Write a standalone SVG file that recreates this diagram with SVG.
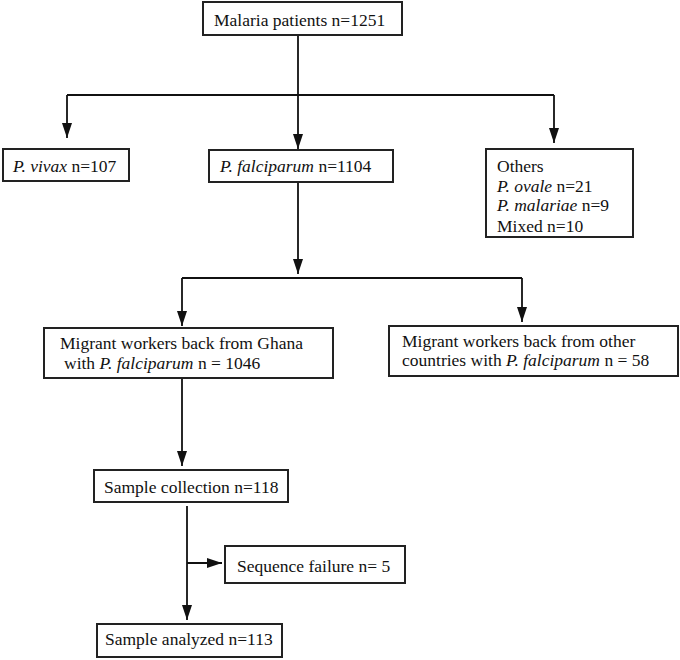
<svg xmlns="http://www.w3.org/2000/svg" width="680" height="660" viewBox="0 0 680 660">
<defs>
<marker id="ah" markerUnits="userSpaceOnUse" markerWidth="15" markerHeight="10" viewBox="0 0 15 10" refX="15" refY="5" orient="auto">
<path d="M0,0 L15,5 L0,10 Z" fill="#111"/>
</marker>
<style>
rect{fill:#fff;stroke:#222;stroke-width:2}
text{font-family:"Liberation Serif","Times New Roman","DejaVu Serif",serif;font-size:17.5px;fill:#111}
.i{font-style:italic}
#connectors line{stroke:#111;stroke-width:1.8;fill:none}
</style>
</defs>
<rect x="0" y="0" width="680" height="660" style="fill:#fff;stroke:none"/>
<g id="connectors">
<line x1="298" y1="35" x2="298" y2="95"/>
<line x1="67" y1="95" x2="554" y2="95"/>
<line x1="67" y1="95" x2="67" y2="138" marker-end="url(#ah)"/>
<line x1="298" y1="95" x2="298" y2="149" marker-end="url(#ah)"/>
<line x1="554" y1="95" x2="554" y2="143" marker-end="url(#ah)"/>
<line x1="298" y1="182" x2="298" y2="274" marker-end="url(#ah)"/>
<line x1="182" y1="278" x2="522" y2="278"/>
<line x1="182" y1="278" x2="182" y2="326" marker-end="url(#ah)"/>
<line x1="522" y1="278" x2="522" y2="322" marker-end="url(#ah)"/>
<line x1="182" y1="378" x2="182" y2="466" marker-end="url(#ah)"/>
<line x1="187" y1="506" x2="187" y2="620" marker-end="url(#ah)"/>
<line x1="187" y1="563" x2="222" y2="563" marker-end="url(#ah)"/>
</g>
<g id="malaria">
<rect x="203" y="2" width="199" height="33"/>
<text x="214" y="26">Malaria patients n=1251</text>
</g>
<g id="vivax">
<rect x="3" y="149" width="126" height="32"/>
<text x="13" y="172"><tspan class="i">P. vivax</tspan> n=107</text>
</g>
<g id="falciparum">
<rect x="209" y="150" width="184" height="32"/>
<text x="220" y="172"><tspan class="i">P. falciparum</tspan> n=1104</text>
</g>
<g id="others">
<rect x="486" y="149" width="147" height="88"/>
<text x="497" y="172">Others</text>
<text x="497" y="192"><tspan class="i">P. ovale</tspan> n=21</text>
<text x="497" y="211"><tspan class="i">P. malariae</tspan> n=9</text>
<text x="497" y="232">Mixed n=10</text>
</g>
<g id="ghana">
<rect x="44" y="328" width="289" height="50"/>
<text x="60" y="349">Migrant workers back from Ghana</text>
<text x="64" y="369">with <tspan class="i">P. falciparum</tspan> n = 1046</text>
</g>
<g id="other-countries">
<rect x="389" y="326" width="289" height="50"/>
<text x="402" y="347">Migrant workers back from other</text>
<text x="402" y="366">countries with <tspan class="i">P. falciparum</tspan>  n = 58</text>
</g>
<g id="collection">
<rect x="94" y="470" width="194" height="32"/>
<text x="104" y="493">Sample collection n=118</text>
</g>
<g id="failure">
<rect x="225" y="546" width="180" height="37"/>
<text x="237" y="572">Sequence failure n= 5</text>
</g>
<g id="analyzed">
<rect x="97" y="624" width="185" height="33"/>
<text x="105" y="645">Sample analyzed n=113</text>
</g>
</svg>
